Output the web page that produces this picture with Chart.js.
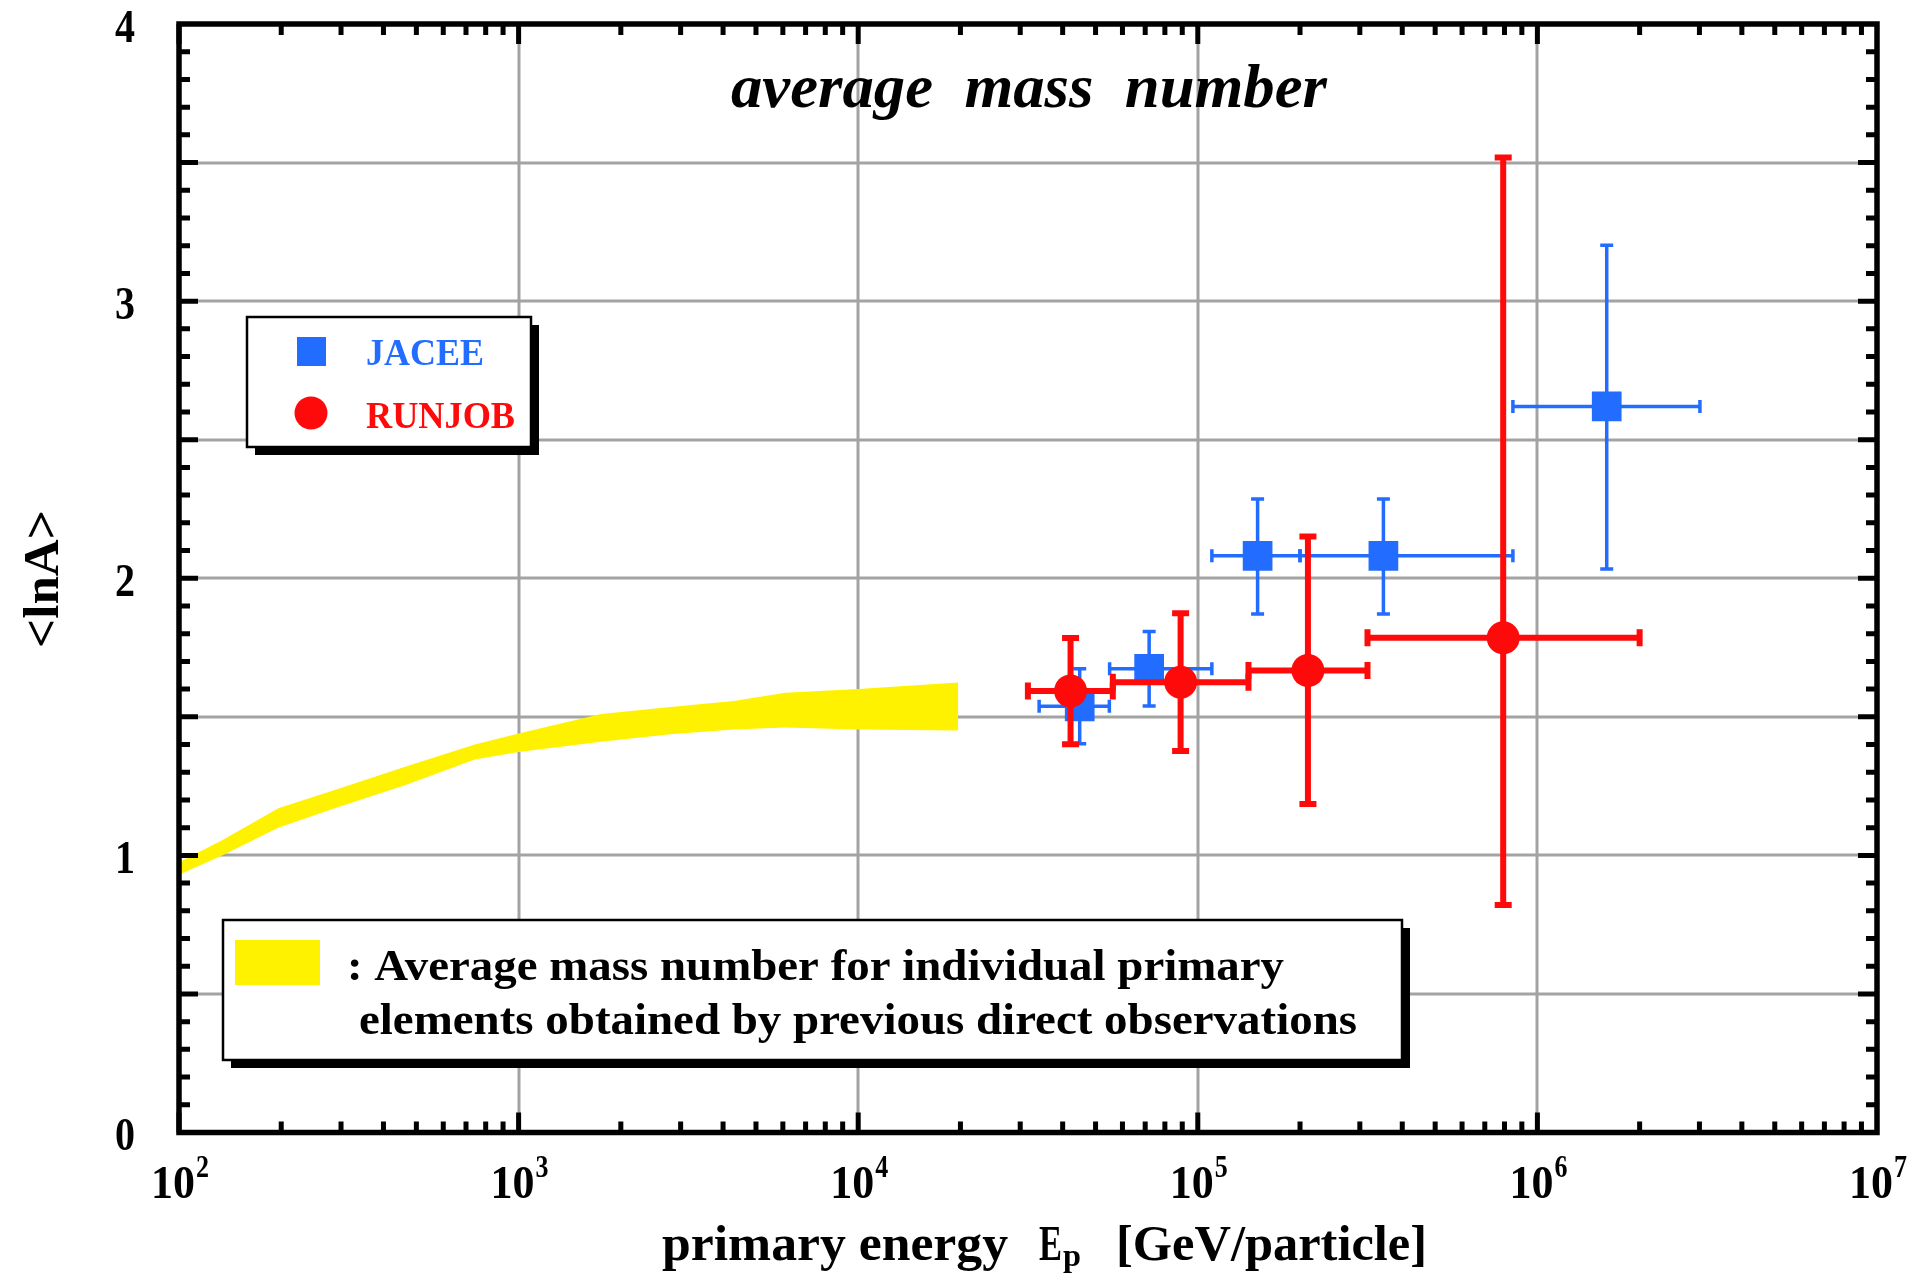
<!DOCTYPE html>
<html>
<head>
<meta charset="utf-8">
<script src="https://cdn.jsdelivr.net/npm/chart.js@4.4.1/dist/chart.umd.min.js"></script>
<style>
  html, body { margin: 0; padding: 0; background: #fff; }
  canvas { display: block; }
</style>
</head>
<body>
<canvas id="chart" width="1914" height="1273"></canvas>
<script>
/* ── Data ── */
// yellow band: average mass number from direct observations
const bandEnergy = [100, 134, 196, 295, 463, 743, 1000, 1750, 2800, 4300, 6100, 10000, 19700];
const bandUpper  = [0.975, 1.055, 1.17, 1.24, 1.32, 1.40, 1.44, 1.51, 1.535, 1.557, 1.587, 1.60, 1.624];
const bandLower  = [0.93, 1.00, 1.10, 1.175, 1.253, 1.346, 1.373, 1.41, 1.437, 1.454, 1.461, 1.454, 1.451];

// JACEE
const jaceeE    = [4.49e4, 7.19e4, 1.50e5, 3.52e5, 1.60e6];
const jaceeLnA  = [1.538, 1.673, 2.081, 2.081, 2.62];
const jaceeElo  = [3.41e4, 5.5e4, 1.1e5, 2.0e5, 8.47e5];
const jaceeEhi  = [5.49e4, 1.1e5, 2.0e5, 8.47e5, 3.01e6];
const jaceeAlo  = [1.403, 1.539, 1.871, 1.871, 2.033];
const jaceeAhi  = [1.673, 1.808, 2.286, 2.286, 3.202];

// RUNJOB
const runjobE   = [4.22e4, 8.9e4, 2.11e5, 7.93e5];
const runjobLnA = [1.593, 1.625, 1.667, 1.785];
const runjobElo = [3.16e4, 5.62e4, 1.41e5, 3.16e5];
const runjobEhi = [5.62e4, 1.41e5, 3.16e5, 2.0e6];
const runjobAlo = [1.401, 1.377, 1.185, 0.821];
const runjobAhi = [1.784, 1.874, 2.151, 3.518];

// axes
const xDecades    = [1e2, 1e3, 1e4, 1e5, 1e6, 1e7];
const xExponents  = ["2", "3", "4", "5", "6", "7"];
const yTickValues = [0, 1, 2, 3, 4];
const yTickLabels = ["0", "1", "2", "3", "4"];

const YELLOW = "#FFF200";
const BLUE   = "#226CFF";
const RED    = "#FF0A0A";
const GRID   = "#A3A3A3";
const SERIF  = "'Liberation Serif', 'DejaVu Serif', serif";

/* ── Helpers ── */
function text(ctx, s, x, y, font, color, align, width) {
  ctx.save();
  ctx.font = font;
  ctx.fillStyle = color;
  ctx.textAlign = align;
  ctx.textBaseline = "alphabetic";
  const w  = ctx.measureText(s).width;
  const sx = width ? width / w : 1;
  ctx.translate(x, y);
  ctx.scale(sx, 1);
  ctx.fillText(s, 0, 0);
  ctx.restore();
}

function boxWithShadow(ctx, x, y, w, h) {
  ctx.save();
  ctx.fillStyle = "#000";
  ctx.fillRect(x + 8, y + 8, w, h);
  ctx.fillStyle = "#fff";
  ctx.fillRect(x, y, w, h);
  ctx.strokeStyle = "#000";
  ctx.lineWidth = 2.5;
  ctx.strokeRect(x, y, w, h);
  ctx.restore();
}

/* ── Error bars ── */
const errorBars = {
  id: "errorBars",
  beforeDatasetDraw(chart, args) {
    const ds = chart.data.datasets[args.index];
    if (!ds.err) return;
    const { ctx, scales: { x, y } } = chart;
    const e = ds.err;
    ctx.save();
    ctx.strokeStyle = ds.backgroundColor;
    ctx.lineCap = "butt";
    ds.data.forEach((p, i) => {
      const px = x.getPixelForValue(p.x), py = y.getPixelForValue(p.y);
      const x0 = x.getPixelForValue(e.xlo[i]), x1 = x.getPixelForValue(e.xhi[i]);
      const y0 = y.getPixelForValue(e.ylo[i]), y1 = y.getPixelForValue(e.yhi[i]);
      ctx.lineWidth = e.width;
      ctx.beginPath();
      ctx.moveTo(x0, py); ctx.lineTo(x1, py);
      ctx.moveTo(px, y0); ctx.lineTo(px, y1);
      ctx.stroke();
      ctx.lineWidth = e.capWidth;
      const c = e.cap / 2;
      ctx.beginPath();
      ctx.moveTo(x0, py - c); ctx.lineTo(x0, py + c);
      ctx.moveTo(x1, py - c); ctx.lineTo(x1, py + c);
      ctx.moveTo(px - c, y0); ctx.lineTo(px + c, y0);
      ctx.moveTo(px - c, y1); ctx.lineTo(px + c, y1);
      ctx.stroke();
    });
    ctx.restore();
  }
};

/* ── Grid, frame, ticks, labels, legends ── */
const decorations = {
  id: "decorations",
  beforeDatasetsDraw(chart) {
    const { ctx, chartArea: a, scales: { x, y } } = chart;
    ctx.save();
    ctx.strokeStyle = GRID;
    ctx.lineWidth = 3;
    ctx.beginPath();
    xDecades.slice(1, -1).forEach(v => {
      const px = Math.round(x.getPixelForValue(v));
      ctx.moveTo(px, a.top); ctx.lineTo(px, a.bottom);
    });
    for (let v = 0.5; v < 4; v += 0.5) {
      const py = Math.round(y.getPixelForValue(v));
      ctx.moveTo(a.left, py); ctx.lineTo(a.right, py);
    }
    ctx.stroke();
    ctx.restore();
  },
  afterDatasetsDraw(chart) {
    const { ctx, chartArea: a, scales: { x, y } } = chart;

    /* legend: markers */
    boxWithShadow(ctx, 247, 317, 284, 130);
    ctx.fillStyle = BLUE;
    ctx.fillRect(297, 337, 29, 29);
    ctx.fillStyle = RED;
    ctx.beginPath(); ctx.arc(311, 413, 16.5, 0, Math.PI * 2); ctx.fill();
    text(ctx, "JACEE",  366, 365, `bold 38px ${SERIF}`, BLUE, "left", 118);
    text(ctx, "RUNJOB", 366, 428, `bold 38px ${SERIF}`, RED,  "left", 149);

    /* legend: band */
    boxWithShadow(ctx, 223, 920, 1179, 140);
    ctx.fillStyle = YELLOW;
    ctx.fillRect(235, 940, 85, 45);
    text(ctx, ": Average mass number for individual primary", 347, 980, `bold 45px ${SERIF}`, "#000", "left", 937);
    text(ctx, "elements obtained by previous direct observations", 359, 1034, `bold 45px ${SERIF}`, "#000", "left", 998);

    /* frame + ticks */
    ctx.save();
    ctx.strokeStyle = "#000";
    ctx.lineWidth = 5;
    ctx.beginPath();
    for (let d = 0; d < xDecades.length - 1; d++) {
      for (let m = 1; m < 10; m++) {
        const v  = xDecades[d] * m;
        const px = x.getPixelForValue(v);
        const len = m === 1 ? 20 : 11;
        ctx.moveTo(px, a.bottom); ctx.lineTo(px, a.bottom - len);
        ctx.moveTo(px, a.top);    ctx.lineTo(px, a.top + len);
      }
    }
    for (let k = 1; k < 40; k++) {
      const py  = y.getPixelForValue(k / 10);
      const len = k % 5 === 0 ? 19 : 11;
      ctx.moveTo(a.left, py);  ctx.lineTo(a.left + len, py);
      ctx.moveTo(a.right, py); ctx.lineTo(a.right - len, py);
    }
    ctx.stroke();
    ctx.lineWidth = 5.5;
    ctx.strokeRect(a.left, a.top, a.right - a.left, a.bottom - a.top);
    ctx.restore();

    /* tick labels */
    yTickValues.forEach((v, i) => {
      const py = y.getPixelForValue(v);
      text(ctx, yTickLabels[i], 135, py + 17.5, `bold 46px ${SERIF}`, "#000", "right", 20);
    });
    xDecades.forEach((v, i) => {
      const px = x.getPixelForValue(v);
      text(ctx, "10", px + 16, 1198, `bold 46px ${SERIF}`, "#000", "right", 44);
      text(ctx, xExponents[i], px + 17, 1177, `bold 32px ${SERIF}`, "#000", "left", 13);
    });

    /* titles */
    text(ctx, "average  mass  number", 1029, 107, `italic bold 62px ${SERIF}`, "#000", "center", 596);
    text(ctx, "primary energy", 662, 1260, `bold 50px ${SERIF}`, "#000", "left", 346);
    text(ctx, "E", 1039, 1260, `bold 50px ${SERIF}`, "#000", "left", 23);
    text(ctx, "p", 1063, 1266, `bold 32px ${SERIF}`, "#000", "left", 18);
    text(ctx, "[GeV/particle]", 1116, 1260, `bold 50px ${SERIF}`, "#000", "left", 311);

    ctx.save();
    ctx.translate(58, 579);
    ctx.rotate(-Math.PI / 2);
    text(ctx, "<lnA>", 0, 0, `bold 50px ${SERIF}`, "#000", "center", 138);
    ctx.restore();
  }
};

/* ── Chart ── */
const toPoints = (xs, ys) => xs.map((v, i) => ({ x: v, y: ys[i] }));

new Chart(document.getElementById("chart"), {
  type: "scatter",
  data: {
    datasets: [
      {
        label: "band upper",
        data: toPoints(bandEnergy, bandUpper),
        showLine: true, borderWidth: 0, pointRadius: 0,
        backgroundColor: YELLOW, fill: "+1", order: 3,
      },
      {
        label: "band lower",
        data: toPoints(bandEnergy, bandLower),
        showLine: true, borderWidth: 0, pointRadius: 0,
        fill: false, order: 3,
      },
      {
        label: "JACEE",
        data: toPoints(jaceeE, jaceeLnA),
        pointStyle: "rect", pointRadius: 21, pointBorderWidth: 0,
        backgroundColor: BLUE, borderColor: BLUE, order: 2,
        err: { xlo: jaceeElo, xhi: jaceeEhi, ylo: jaceeAlo, yhi: jaceeAhi, width: 3.5, cap: 13, capWidth: 3.5 },
      },
      {
        label: "RUNJOB",
        data: toPoints(runjobE, runjobLnA),
        pointStyle: "circle", pointRadius: 16.5, pointBorderWidth: 0,
        backgroundColor: RED, borderColor: RED, order: 1,
        err: { xlo: runjobElo, xhi: runjobEhi, ylo: runjobAlo, yhi: runjobAhi, width: 6, cap: 17, capWidth: 6 },
      },
    ]
  },
  options: {
    responsive: false,
    animation: false,
    devicePixelRatio: 1,
    events: [],
    layout: { padding: { left: 179, top: 24, right: 37, bottom: 140.5 } },
    scales: {
      x: { type: "logarithmic", min: 100, max: 1e7, display: false },
      y: { min: 0, max: 4, display: false },
    },
    plugins: { legend: { display: false }, tooltip: { enabled: false } },
  },
  plugins: [decorations, errorBars],
});
</script>
</body>
</html>
